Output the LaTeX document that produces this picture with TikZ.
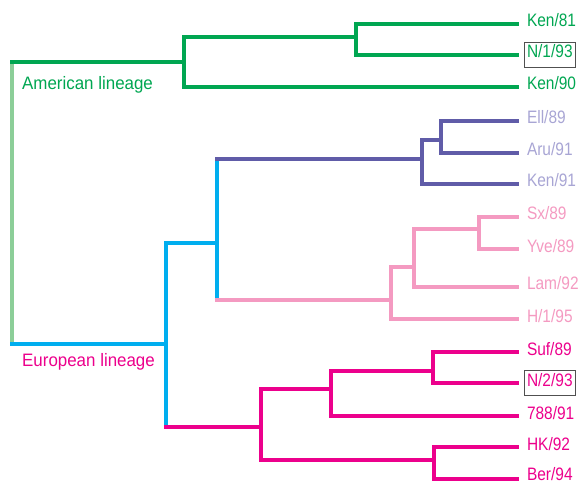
\documentclass[tikz,border=0pt]{standalone}
\usepackage{fontspec}
\setmainfont{Liberation Sans}[FakeStretch=0.86]
\newfontfamily\lineagefont{Liberation Sans}[FakeStretch=0.94]
\definecolor{treegreen}{RGB}{0,166,81}
\definecolor{rootgreen}{RGB}{140,206,152}
\definecolor{treeblue}{RGB}{0,174,239}
\definecolor{purpleline}{RGB}{96,92,168}
\definecolor{purpletext}{RGB}{168,165,212}
\definecolor{treepink}{RGB}{244,154,193}
\definecolor{treemagenta}{RGB}{236,0,140}
\definecolor{boxgray}{RGB}{80,80,80}

\begin{document}
\begin{tikzpicture}[x=1pt, y=-1pt, line cap=rect, leaf/.style={anchor=west, inner xsep=3pt, inner ysep=0pt, outer xsep=7pt, outer ysep=0pt, text height=7pt, text depth=1pt, font=\fontsize{18}{20}\selectfont}, boxleaf/.style={leaf, draw=boxgray, line width=0.8pt, inner ysep=3pt, text height=12.5pt, text depth=6.5pt}, lineage/.style={anchor=base west, inner sep=0pt, font=\lineagefont\fontsize{18}{20}\selectfont}, branch/.style={line width=3.2pt}]
    \useasboundingbox (0,0) rectangle (579,484);

    %Nodes
    \node[leaf, text=treegreen](ken81) at (517,24){Ken/81};
    \node[boxleaf, text=treegreen](n193) at (517,55){N/1/93};
    \node[leaf, text=treegreen](ken90) at (517,87){Ken/90};
    \node[leaf, text=purpletext](ell89) at (517,121){Ell/89};
    \node[leaf, text=purpletext](aru91) at (517,153){Aru/91};
    \node[leaf, text=purpletext](ken91) at (517,184){Ken/91};
    \node[leaf, text=treepink](sx89) at (517,217){Sx/89};
    \node[leaf, text=treepink](yve89) at (517,249){Yve/89};
    \node[leaf, text=treepink](lam92) at (517,287){Lam/92};
    \node[leaf, text=treepink](h195) at (517,319){H/1/95};
    \node[leaf, text=treemagenta](suf89) at (517,352){Suf/89};
    \node[boxleaf, text=treemagenta](n293) at (517,383){N/2/93};
    \node[leaf, text=treemagenta](v788) at (517,416){788/91};
    \node[leaf, text=treemagenta](hk92) at (517,447){HK/92};
    \node[leaf, text=treemagenta, text height=5pt, text depth=3pt](ber94) at (517,479){Ber/94};
    \node[lineage, text=treegreen](american) at (22,90){American lineage};
    \node[lineage, text=treemagenta](european) at (22,366){European lineage};

    %Branch points
    \coordinate (amer) at (12,62);
    \coordinate (euro) at (12,344);
    \coordinate (gA) at (184,62);
    \coordinate (gB) at (356,37);
    \coordinate (bA) at (166,344);
    \coordinate (bB) at (217,243);
    \coordinate (pA) at (422,159);
    \coordinate (pB) at (441,140);
    \coordinate (kA) at (391,300);
    \coordinate (kB) at (414,267);
    \coordinate (kC) at (479,229);
    \coordinate (mA) at (261,427);
    \coordinate (mB) at (331,389);
    \coordinate (mC) at (434,460);
    \coordinate (mD) at (433,371);

    %Lines
    \draw[branch, rootgreen] (amer) -- (euro);
    \draw[branch, treegreen] (amer) -- (gA);
    \draw[branch, treegreen] (gA) |- (gB);
    \draw[branch, treegreen] (gA) |- (ken90);
    \draw[branch, treegreen] (gB) |- (ken81);
    \draw[branch, treegreen] (gB) |- (n193);

    \draw[branch, treeblue] (euro) -- (bA);
    \draw[branch, treeblue] (bA) |- (bB);
    \draw[branch, treeblue] (bA) -- (bA |- mA);
    \draw[branch, treeblue] (bB |- pA) -- (bB |- kA);
    \draw[branch, purpleline] (bB |- pA) -- (pA);
    \draw[branch, treepink] (bB |- kA) -- (kA);
    \draw[branch, treemagenta] (bA |- mA) -- (mA);

    \draw[branch, purpleline] (pA) |- (pB);
    \draw[branch, purpleline] (pA) |- (ken91);
    \draw[branch, purpleline] (pB) |- (ell89);
    \draw[branch, purpleline] (pB) |- (aru91);

    \draw[branch, treepink] (kA) |- (kB);
    \draw[branch, treepink] (kA) |- (h195);
    \draw[branch, treepink] (kB) |- (kC);
    \draw[branch, treepink] (kB) |- (lam92);
    \draw[branch, treepink] (kC) |- (sx89);
    \draw[branch, treepink] (kC) |- (yve89);

    \draw[branch, treemagenta] (mA) |- (mB);
    \draw[branch, treemagenta] (mA) |- (mC);
    \draw[branch, treemagenta] (mB) |- (mD);
    \draw[branch, treemagenta] (mB) |- (v788);
    \draw[branch, treemagenta] (mD) |- (suf89);
    \draw[branch, treemagenta] (mD) |- (n293);
    \draw[branch, treemagenta] (mC) |- (hk92);
    \draw[branch, treemagenta] (mC) |- (ber94);

\end{tikzpicture}
\end{document}
